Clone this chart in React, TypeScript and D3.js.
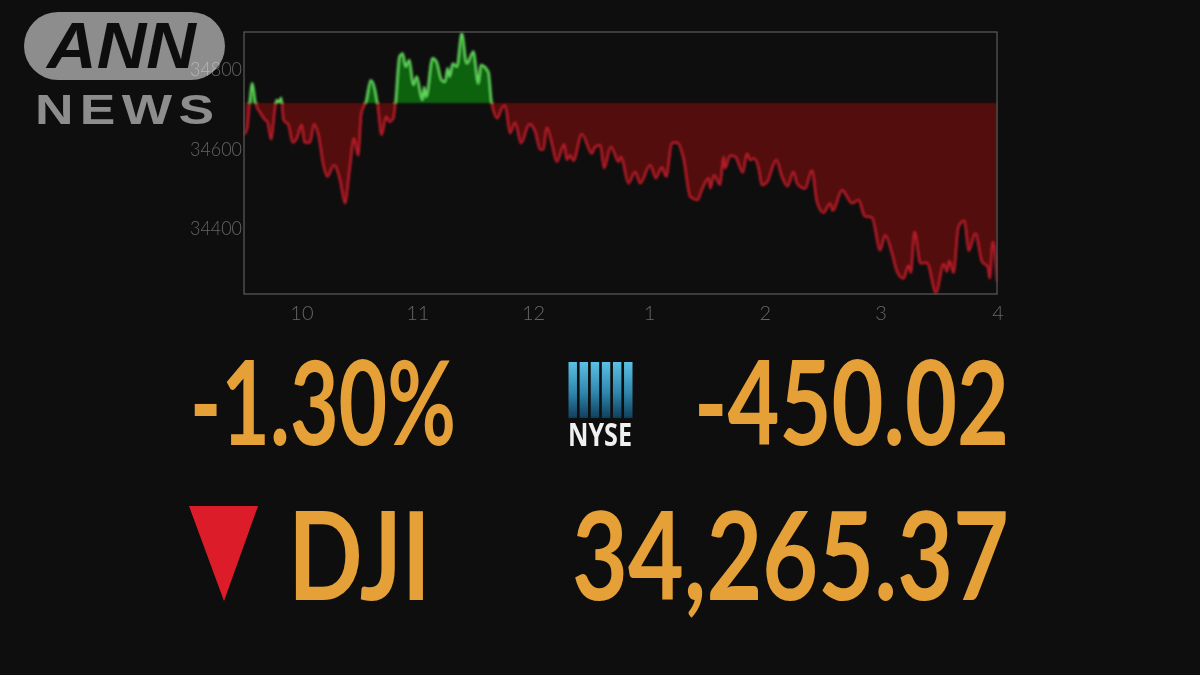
import React from "react";
import * as d3 from "d3";

const minutes = [0,1.7,2.8,4.3,6,8.3,10.9,12.1,14,16.1,16.9,18.1,19.3,20.4,23,25.2,27.3,29.9,31.3,34.2,36.3,38.5,41.1,43.2,46.6,49.7,52.3,54.6,57,59.1,60.8,63.2,65.6,67.9,69.1,71.3,73.6,75.3,77.4,78.4,80.5,82.2,83.8,85.7,87.7,89.5,92.4,93.3,94.3,97.6,99.8,102.4,104.1,105.4,106.4,108.1,110.2,112.8,115.4,118.8,121.4,122.6,126.6,128.3,131.3,133.5,135.2,137.8,140.4,143.5,147.8,150.8,153.4,155.1,156.8,159.4,162,165.8,167.2,168.9,170.6,175,180.1,181.9,184.5,186.5,190,194,195.2,199.1,202.6,205.2,210.4,213.3,216.4,218.7,221.6,224.2,227.6,231.1,234.9,237.1,240.6,241.5,243.5,246.6,248.4,249.2,251.8,254.4,258.4,260.5,262.2,264.3,266.5,268.2,270.8,275.7,278.6,281.5,284.6,286.4,290.7,294.1,296.7,300.2,303.6,305,309.7,314.9,318.3,321.4,325.2,329.5,332.1,335.6,338.2,341.6,344.2,345.4,347.3,350.3,353.7,358.4,362.4,364.1,365.3,367.5,370.1,373.1,375.3,378.8,382.2,385.2,386.2,387.9,390];
const prices = [34635,34652,34710,34765,34714,34692,34673,34668,34624,34702,34723,34717,34729,34673,34660,34616,34626,34660,34616,34616,34662,34635,34559,34530,34559,34522,34463,34543,34626,34583,34689,34719,34773,34748,34714,34635,34681,34668,34677,34714,34832,34840,34807,34824,34761,34782,34723,34756,34731,34828,34819,34773,34769,34803,34782,34815,34807,34891,34815,34845,34765,34811,34794,34714,34677,34702,34710,34639,34666,34614,34662,34643,34598,34598,34654,34614,34567,34611,34572,34584,34570,34637,34588,34605,34609,34551,34605,34567,34580,34513,34542,34513,34559,34526,34553,34530,34614,34616,34576,34479,34471,34496,34526,34500,34534,34509,34580,34551,34583,34580,34540,34588,34572,34576,34551,34509,34515,34572,34530,34506,34542,34513,34500,34546,34467,34439,34463,34444,34496,34463,34471,34431,34427,34345,34383,34337,34291,34274,34307,34288,34391,34312,34313,34238,34310,34291,34318,34288,34404,34419,34343,34387,34316,34303,34274,34366,34265];
const previousClose = 34715.39;
const yTicks = [34800, 34600, 34400];
const xTickMinutes = [30, 90, 150, 210, 270, 330, 390];
const xTickLabels = ["10", "11", "12", "1", "2", "3", "4"];
const logoBars = [0, 1, 2, 3, 4, 5];
const headline = { pct: "-1.30%", change: "-450.02", name: "DJI", level: "34,265.37" };

const W = 1200, H = 675;
const L = 244, R = 997, T = 32, B = 294;
const NUM = "Lato, 'Open Sans', sans-serif";

export default function App() {
  const x = d3.scaleLinear().domain([0, 390]).range([L, R]);
  const y = d3.scaleLinear().domain([previousClose, previousClose - 100]).range([103, 142.75]);
  const pts = minutes.map((m, i) => [m, prices[i]] as [number, number]);
  const area = d3.area<[number, number]>().x(d => x(d[0])).y0(y(previousClose)).y1(d => y(d[1])).curve(d3.curveMonotoneX);
  const line = d3.line<[number, number]>().x(d => x(d[0])).y(d => y(d[1])).curve(d3.curveMonotoneX);
  const base = y(previousClose);
  const barScale = d3.scaleBand<number>().domain(logoBars).range([568.5, 632.5]).paddingInner(0.24);

  return (
    <svg width={W} height={H} viewBox={`0 0 ${W} ${H}`} style={{ position: "absolute", left: 0, top: 0, display: "block" }}>
      <defs>
        <clipPath id="above"><rect x={L} y={0} width={R - L} height={base} /></clipPath>
        <clipPath id="below"><rect x={L} y={base} width={R - L} height={H - base} /></clipPath>
        <filter id="soft" x="-5%" y="-5%" width="110%" height="110%"><feGaussianBlur stdDeviation="0.8" /></filter>
        <filter id="softer" x="-5%" y="-5%" width="110%" height="110%"><feGaussianBlur stdDeviation="0.5" /></filter>
        <linearGradient id="bar" x1="0" y1="0" x2="0" y2="1">
          <stop offset="0" stopColor="#5cc0e4" />
          <stop offset="0.55" stopColor="#2f86ad" />
          <stop offset="1" stopColor="#0f3f5c" />
        </linearGradient>
      </defs>
      <rect width={W} height={H} fill="#0e0e0e" />

      {/* ANN NEWS logo */}
      <g filter="url(#softer)">
        <rect x={24} y={12} width={201} height={68} rx={34} fill="#8d8d8d" />
        <text x={47} y={68} fontFamily="'Liberation Sans', sans-serif" fontWeight={700} fontStyle="italic" fontSize={65} textLength={149} lengthAdjust="spacingAndGlyphs" fill="#111">ANN</text>
        <text transform="translate(35,124) scale(1.27,1)" fontFamily="'Liberation Sans', sans-serif" fontWeight={700} fontSize={42} letterSpacing={5} fill="#8d8d8d">NEWS</text>
      </g>

      {/* Chart */}
      <g filter="url(#soft)">
        <path d={area(pts) ?? ""} fill="#530e10" clipPath="url(#below)" />
        <path d={area(pts) ?? ""} fill="#0d6310" clipPath="url(#above)" />
        <path d={line(pts) ?? ""} fill="none" stroke="#b51c28" strokeWidth={2.4} clipPath="url(#below)" />
        <path d={line(pts) ?? ""} fill="none" stroke="#5fd65a" strokeWidth={2.4} clipPath="url(#above)" />
      </g>
      <rect x={L} y={T} width={R - L} height={B - T} fill="none" stroke="#565656" strokeWidth={1.3} filter="url(#softer)" />
      <g filter="url(#softer)" style={{ mixBlendMode: "screen" }} fontFamily={NUM} fontWeight={300} fontSize={20} fill="#5c5c5c">
        {yTicks.map(v => (
          <text key={v} x={190} y={y(v) + 7} textLength={52} lengthAdjust="spacingAndGlyphs">{v}</text>
        ))}
        {xTickMinutes.map((m, i) => (
          <text key={m} x={x(m) + (i === 6 ? 1 : 0)} y={320} textAnchor="middle">{xTickLabels[i]}</text>
        ))}
      </g>

      {/* Headline numbers */}
      <g filter="url(#softer)" fontFamily={NUM} fontWeight={700} fill="#e5a038">
        <text x={190} y={445} fontSize={116} textLength={266} lengthAdjust="spacingAndGlyphs">{headline.pct}</text>
        <text x={694} y={445} fontSize={116} textLength={315} lengthAdjust="spacingAndGlyphs">{headline.change}</text>
        <text x={288} y={600} fontSize={123} textLength={143} lengthAdjust="spacingAndGlyphs">{headline.name}</text>
        <text x={572} y={600} fontSize={122} textLength={437} lengthAdjust="spacingAndGlyphs">{headline.level}</text>
      </g>

      {/* Down triangle */}
      <polygon points="189,506 258,506 224,601" fill="#dd1f2a" filter="url(#softer)" />

      {/* NYSE logo */}
      <g filter="url(#softer)">
        {logoBars.map(b => (
          <rect key={b} x={barScale(b)} y={362} width={barScale.bandwidth()} height={56} fill="url(#bar)" />
        ))}
        <text x={568} y={446} fontFamily="'Open Sans', sans-serif" fontWeight={700} fontSize={32} textLength={64} lengthAdjust="spacingAndGlyphs" fill="#f0f0f0">NYSE</text>
      </g>
    </svg>
  );
}
